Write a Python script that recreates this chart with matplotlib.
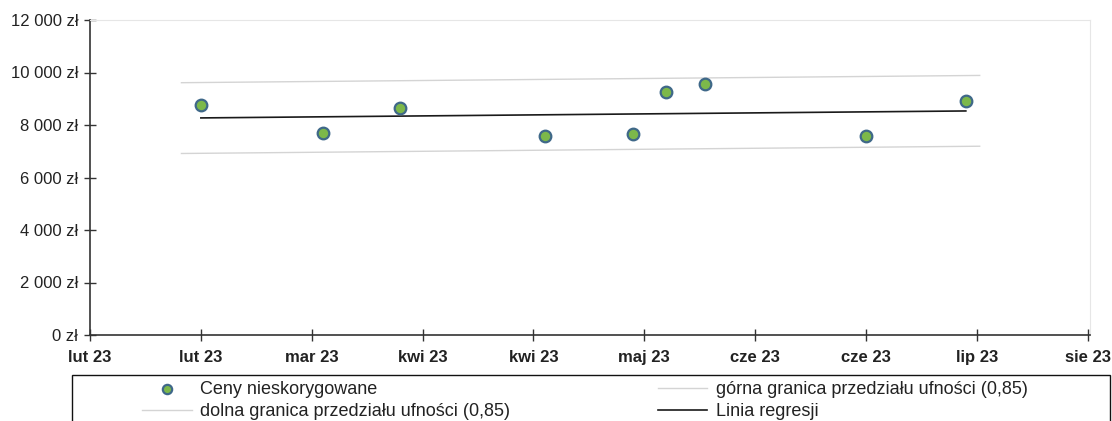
import numpy as np
import matplotlib
matplotlib.use("Agg")
import matplotlib.pyplot as plt
import matplotlib.dates as mdates
from matplotlib.ticker import FuncFormatter, MultipleLocator
from matplotlib.patches import Rectangle

plt.rcParams['font.family'] = ['Liberation Sans', 'DejaVu Sans']

# ---- data ----
dates = ["2023-02-25", "2023-03-19", "2023-04-02", "2023-04-28", "2023-05-14",
         "2023-05-20", "2023-05-27", "2023-06-25", "2023-07-13"]
prices = [8750, 7700, 8650, 7580, 7650, 9260, 9560, 7580, 8910]
month_abbr = ["sty", "lut", "mar", "kwi", "maj", "cze", "lip", "sie", "wrz", "paź", "lis", "gru"]
axis_start = "2023-02-05"
tick_step_days = 20
n_ticks = 10
conf_level = 0.85
t_quantile = 1.617  # t(0.925, df=7)
label_points = "Ceny nieskorygowane"
label_lower = "dolna granica przedziału ufności (0,85)"
label_upper = "górna granica przedziału ufności (0,85)"
label_reg = "Linia regresji"

# ---- computations ----
d = np.array([mdates.datestr2num(s) for s in dates])
y = np.array(prices, dtype=float)
coef = np.polyfit(d, y, 1)
resid = y - np.polyval(coef, d)
s = np.sqrt(np.sum(resid**2) / (len(y) - 2))
half = t_quantile * s
x0 = mdates.datestr2num(axis_start)
ticks = x0 + np.arange(n_ticks) * tick_step_days

W, H = 1112, 421
fig = plt.figure(figsize=(W/100, H/100), dpi=100)
ax = fig.add_axes([90/W, 1 - 335/H, (1090-90)/W, (335-20)/H])

xr = np.array([d.min(), d.max()])
xb = np.array([d.min() - 3.5, d.max() + 2.5])
ax.plot(xb, np.polyval(coef, xb) + half, color="#d4d4d4", lw=1.0, label=label_upper, zorder=2)
ax.plot(xb, np.polyval(coef, xb) - half, color="#d4d4d4", lw=1.0, label=label_lower, zorder=2)
ax.plot(xr, np.polyval(coef, xr), color="#1a1a1a", lw=1.2, label=label_reg, zorder=3)
ax.scatter(d, y, s=70, facecolor="#7cb84a", edgecolor="#3f6889", linewidth=1.6,
           label=label_points, zorder=4)

ax.set_xlim(ticks[0], ticks[-1] + 0.4)
ax.set_ylim(0, 12000)
ax.set_xticks(ticks)
ax.xaxis.set_major_formatter(FuncFormatter(
    lambda v, p: f"{month_abbr[mdates.num2date(v).month-1]} {mdates.num2date(v).year % 100:02d}"))
ax.yaxis.set_major_locator(MultipleLocator(2000))
ax.yaxis.set_major_formatter(FuncFormatter(lambda v, p: f"{int(v):,} zł".replace(",", " ")))

for sp in ["top", "right"]:
    ax.spines[sp].set_color("#e6e6e6")
    ax.spines[sp].set_linewidth(0.8)
for sp in ["left", "bottom"]:
    ax.spines[sp].set_color("#333333")
    ax.spines[sp].set_linewidth(1.2)
ax.tick_params(direction="inout", length=9, width=1.0, color="#333333")
ax.tick_params(axis="y", labelsize=12, pad=4, labelcolor="#222222")
ax.tick_params(axis="x", labelsize=12, pad=6, labelcolor="#222222")
for lbl in ax.get_xticklabels():
    lbl.set_fontweight("bold")

# legend frame (cut by the figure edge, as in the reference)
fig.patches.append(Rectangle((72/W, -0.2), (1110-72)/W, 0.2 + 1 - 375/H,
                             transform=fig.transFigure, fill=False,
                             edgecolor="#111111", linewidth=1.0))

h, l = ax.get_legend_handles_labels()
order = [3, 1, 0, 2]
leg = fig.legend([h[i] for i in order], [l[i] for i in order], ncol=2,
                 loc="upper left", bbox_to_anchor=(142/W, 1 - 381/H),
                 frameon=False, fontsize=13, handlelength=2.75, handletextpad=0.45,
                 columnspacing=8.2, borderpad=0, labelspacing=0.28,
                 borderaxespad=0, markerscale=0.8)
for t in leg.get_texts():
    t.set_color("#222222")

fig.savefig("out.png", dpi=100)
